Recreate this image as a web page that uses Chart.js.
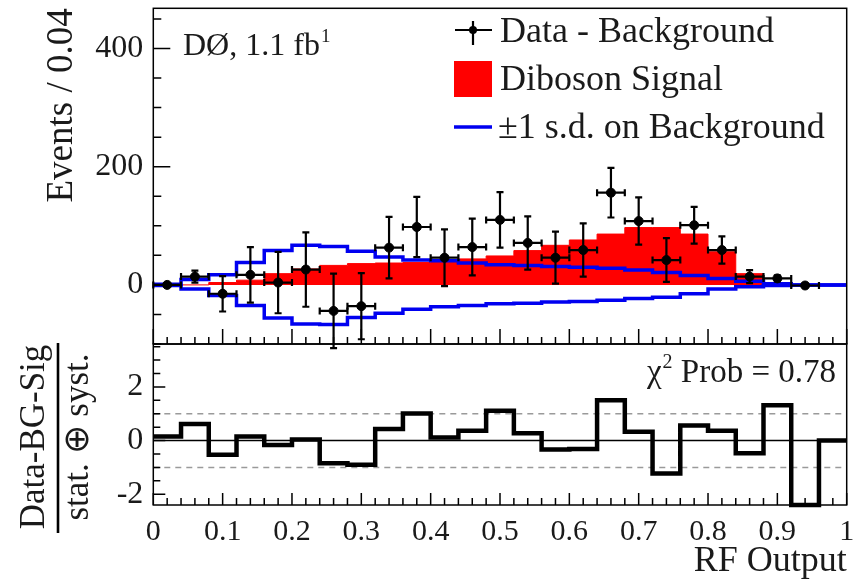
<!DOCTYPE html>
<html>
<head>
<meta charset="utf-8">
<script src="https://cdn.jsdelivr.net/npm/chart.js@4.4.1/dist/chart.umd.min.js"></script>
<style>
  body { margin: 0; background: #fff; }
  #wrap { position: relative; width: 863px; height: 579px; }
  canvas { position: absolute; left: 0; top: 0; }
</style>
</head>
<body>
<div id="wrap">
  <canvas id="topChart" width="863" height="579"></canvas>
  <canvas id="bottomChart" width="863" height="579"></canvas>
</div>
<script>
// RF output bins (width 0.04), low edges
const binLow = [0, 0.04, 0.08, 0.12, 0.16, 0.2, 0.24, 0.28, 0.32, 0.36, 0.4, 0.44, 0.48,
  0.52, 0.56, 0.6, 0.64, 0.68, 0.72, 0.76, 0.8, 0.84, 0.88, 0.92, 0.96];
const binCentres = [0.02, 0.06, 0.1, 0.14, 0.18, 0.22, 0.26, 0.3, 0.34, 0.38, 0.42, 0.46,
  0.5, 0.54, 0.58, 0.62, 0.66, 0.7, 0.74, 0.78, 0.82, 0.86, 0.9, 0.94];

// upper panel
const dataMinusBkg = [0, 14, -15, 17, 4, 26, -44, -36, 63, 98, 46, 64, 110, 71, 46, 59, 156, 108, 42, 101, 59, 14, 11, -1];
const dataErr = [2, 10, 30, 47, 52, 63, 63, 56, 52, 51, 48, 48, 47, 45, 44, 45, 42, 40, 37, 31, 23, 11, 5, 3];
const signal = [0, 0, 4, 8, 19, 27, 33, 36, 37, 38, 41, 44, 49, 58, 67, 76, 86, 97, 97, 86, 56, 19, 3, 0, 0];
const bkgUp = [1, 9, 17, 38, 58, 67, 65, 57, 47, 42, 41, 37, 34, 33, 31, 30, 28, 25, 21, 16, 11, 6, 2, 0, 0];
const bkgDown = [-1, -7, -18, -35, -56, -66, -67, -55, -48, -41, -37, -35, -32, -31, -29, -28, -26, -23, -21, -15, -7, -3, -1, 0, 0];

// lower panel: (Data-BG-Sig) / (stat. (+) syst.)
const pull = [0.15, 0.62, -0.53, 0.15, -0.16, 0.04, -0.84, -0.9, 0.43, 1.01, 0.12, 0.37, 1.11, 0.27,
  -0.33, -0.31, 1.5, 0.33, -1.23, 0.56, 0.37, -0.47, 1.32, -2.4, 0];
const pullBand = [1, -1];

// tick labels
const xTicks = [0, 0.1, 0.2, 0.3, 0.4, 0.5, 0.6, 0.7, 0.8, 0.9, 1];
const yTicksTop = [0, 200, 400];
const yTicksBottom = [-2, 0, 2];

const legendLabels = ['Data - Background', 'Diboson Signal', '\u00b11 s.d. on Background'];

const SERIF = '"Liberation Serif", "Times New Roman", serif';
const INK = '#1a1a1a';
const BLUE = '#0000f0';

// histogram as stepped line through the low edges, closed at x = 1
const stepPoints = vals => binLow.map((x, i) => ({ x, y: vals[i] })).concat([{ x: 1, y: vals[vals.length - 1] }]);

// ROOT style frame with ticks pointing inwards
function rootFrame(o) {
  return {
    id: 'rootFrame',
    afterDraw(chart) {
      const { ctx, chartArea: a, scales: { x, y } } = chart;
      ctx.save();
      ctx.strokeStyle = '#000';
      ctx.lineWidth = 1.5;
      ctx.strokeRect(a.left, a.top, a.right - a.left, a.bottom - a.top);
      ctx.beginPath();
      for (let k = 0; k <= 50; k++) {
        const px = x.getPixelForValue(k * 0.02);
        ctx.moveTo(px, a.bottom);
        ctx.lineTo(px, a.bottom - (k % 5 === 0 ? o.xMajor : o.xMinor));
      }
      for (let k = 0; ; k++) {
        const v = o.yFirst + k * o.yStep;
        if (v > y.max) break;
        const py = y.getPixelForValue(v);
        const r = v / o.yMajorStep;
        const major = Math.abs(r - Math.round(r)) < 1e-6;
        ctx.moveTo(a.left, py);
        ctx.lineTo(a.left + (major ? o.yMajor : o.yMinor), py);
      }
      ctx.stroke();
      ctx.restore();
    }
  };
}

const errorBars = {
  id: 'errorBars',
  afterDatasetsDraw(chart) {
    const { ctx, scales: { x, y } } = chart;
    ctx.save();
    ctx.strokeStyle = '#000';
    ctx.lineWidth = 2.2;
    binCentres.forEach((c, i) => {
      const px = x.getPixelForValue(c);
      const py = y.getPixelForValue(dataMinusBkg[i]);
      const x0 = x.getPixelForValue(c - 0.02);
      const x1 = x.getPixelForValue(c + 0.02);
      const y0 = y.getPixelForValue(dataMinusBkg[i] - dataErr[i]);
      const y1 = y.getPixelForValue(dataMinusBkg[i] + dataErr[i]);
      ctx.beginPath();
      ctx.moveTo(x0, py); ctx.lineTo(x1, py);
      ctx.moveTo(px, y0); ctx.lineTo(px, y1);
      ctx.moveTo(x0, py - 3.5); ctx.lineTo(x0, py + 3.5);
      ctx.moveTo(x1, py - 3.5); ctx.lineTo(x1, py + 3.5);
      ctx.moveTo(px - 3.5, y0); ctx.lineTo(px + 3.5, y0);
      ctx.moveTo(px - 3.5, y1); ctx.lineTo(px + 3.5, y1);
      ctx.stroke();
    });
    ctx.restore();
  }
};

const topText = {
  id: 'topText',
  afterDraw(chart) {
    const ctx = chart.ctx;
    ctx.save();
    ctx.fillStyle = INK;
    ctx.textBaseline = 'alphabetic';
    ctx.font = '32px ' + SERIF;
    ctx.fillText('D\u00d8, 1.1 fb', 183, 55);
    const w = ctx.measureText('D\u00d8, 1.1 fb').width;
    ctx.font = '19px ' + SERIF;
    ctx.fillText('1', 183 + w + 1, 42);

    // legend
    ctx.font = '36px ' + SERIF;
    ctx.fillText(legendLabels[0], 500, 42);
    ctx.fillText(legendLabels[1], 500, 90);
    ctx.fillText(legendLabels[2], 498, 138);

    ctx.strokeStyle = '#000';
    ctx.lineWidth = 2.2;
    ctx.beginPath();
    ctx.moveTo(455, 30); ctx.lineTo(492, 30);
    ctx.moveTo(473, 21); ctx.lineTo(473, 45);
    ctx.stroke();
    ctx.fillStyle = '#000';
    ctx.beginPath();
    ctx.arc(473, 30, 4, 0, Math.PI * 2);
    ctx.fill();

    ctx.fillStyle = '#ff0000';
    ctx.fillRect(454, 61, 38, 36);

    ctx.strokeStyle = BLUE;
    ctx.lineWidth = 3.5;
    ctx.beginPath();
    ctx.moveTo(454, 127); ctx.lineTo(492, 127);
    ctx.stroke();
    ctx.restore();
  }
};

const bottomText = {
  id: 'bottomText',
  afterDraw(chart) {
    const ctx = chart.ctx;
    ctx.save();
    ctx.fillStyle = INK;
    // y title as a fraction
    ctx.font = '35px ' + SERIF;
    ctx.textAlign = 'center';
    ctx.textBaseline = 'alphabetic';
    ctx.save();
    ctx.translate(44, 437);
    ctx.rotate(-Math.PI / 2);
    ctx.fillText('Data-BG-Sig', 0, 0);
    ctx.restore();
    ctx.save();
    ctx.translate(88, 437);
    ctx.rotate(-Math.PI / 2);
    ctx.fillText('stat. \u2295 syst.', 0, 0);
    ctx.restore();
    ctx.strokeStyle = '#000';
    ctx.lineWidth = 2.6;
    ctx.beginPath();
    ctx.moveTo(58, 343); ctx.lineTo(58, 533);
    ctx.stroke();

    // chi2 probability
    ctx.textAlign = 'left';
    ctx.font = '33px ' + SERIF;
    const wChi = ctx.measureText('\u03c7').width;
    const wRest = ctx.measureText(' Prob = 0.78').width;
    ctx.font = '20px ' + SERIF;
    const w2 = ctx.measureText('2').width;
    const x0 = 835 - wChi - w2 - wRest;
    ctx.font = '33px ' + SERIF;
    ctx.fillText('\u03c7', x0, 382);
    ctx.fillText(' Prob = 0.78', x0 + wChi + w2 + 1, 382);
    ctx.font = '20px ' + SERIF;
    ctx.fillText('2', x0 + wChi + 1, 368);
    ctx.restore();
  }
};

const fixTicks = vals => scale => { scale.ticks = vals.map(v => ({ value: v })); };

new Chart(document.getElementById('topChart'), {
  type: 'scatter',
  data: {
    datasets: [
      {
        label: legendLabels[0],
        data: binCentres.map((c, i) => ({ x: c, y: dataMinusBkg[i] })),
        backgroundColor: '#000',
        borderColor: '#000',
        pointRadius: 4.5,
        order: 0,
      },
      {
        type: 'line',
        label: '+1 s.d.',
        data: stepPoints(bkgUp),
        stepped: true,
        borderColor: BLUE,
        borderWidth: 3.5,
        pointRadius: 0,
        fill: false,
        order: 1,
      },
      {
        type: 'line',
        label: '-1 s.d.',
        data: stepPoints(bkgDown),
        stepped: true,
        borderColor: BLUE,
        borderWidth: 3.5,
        pointRadius: 0,
        fill: false,
        order: 1,
      },
      {
        type: 'line',
        label: legendLabels[1],
        data: stepPoints(signal),
        stepped: true,
        borderColor: '#ff0000',
        borderWidth: 1,
        backgroundColor: '#ff0000',
        fill: 'origin',
        pointRadius: 0,
        order: 2,
      },
    ],
  },
  options: {
    responsive: false,
    animation: false,
    events: [],
    devicePixelRatio: 1,
    layout: { padding: { left: 0, right: 16.3, top: 8.3, bottom: 235 } },
    plugins: { legend: { display: false }, tooltip: { enabled: false } },
    scales: {
      x: { type: 'linear', min: 0, max: 1, display: false },
      y: {
        min: -100,
        max: 468,
        afterBuildTicks: fixTicks(yTicksTop),
        afterFit(scale) { scale.width = 153.3; scale.paddingTop = 0; scale.paddingBottom = 0; },
        grid: { display: false },
        border: { display: false },
        ticks: { color: INK, padding: 2, font: { family: SERIF, size: 32 }, callback: v => String(v) },
        title: {
          display: true,
          text: 'Events / 0.04',
          align: 'end',
          color: INK,
          font: { family: SERIF, size: 37, lineHeight: 1.2 },
          padding: { top: 40, bottom: 0 },
        },
      },
    },
  },
  plugins: [errorBars, topText, rootFrame({ xMajor: 15, xMinor: 7, yFirst: -100, yStep: 50, yMajorStep: 200, yMajor: 17, yMinor: 8 })],
});

new Chart(document.getElementById('bottomChart'), {
  type: 'scatter',
  data: {
    datasets: [
      {
        label: 'pull',
        data: stepPoints(pull),
        showLine: true,
        stepped: true,
        borderColor: '#000',
        borderWidth: 4.5,
        pointRadius: 0,
        clip: 6,
        order: 0,
      },
      {
        label: 'zero',
        data: [{ x: 0, y: 0 }, { x: 1, y: 0 }],
        showLine: true,
        borderColor: '#000',
        borderWidth: 1.5,
        pointRadius: 0,
        order: 1,
      },
      ...pullBand.map(b => ({
        label: 'band ' + b,
        data: [{ x: 0, y: b }, { x: 1, y: b }],
        showLine: true,
        borderColor: '#9a9a9a',
        borderWidth: 1.5,
        borderDash: [6, 5],
        pointRadius: 0,
        order: 2,
      })),
    ],
  },
  options: {
    responsive: false,
    animation: false,
    events: [],
    devicePixelRatio: 1,
    layout: { padding: { left: 0, right: 16.3, top: 344, bottom: 0 } },
    plugins: { legend: { display: false }, tooltip: { enabled: false } },
    scales: {
      x: {
        type: 'linear',
        min: 0,
        max: 1,
        afterBuildTicks: fixTicks(xTicks),
        afterFit(scale) { scale.height = 74; scale.paddingLeft = 0; scale.paddingRight = 0; },
        grid: { display: false },
        border: { display: false },
        ticks: { color: INK, padding: 1, autoSkip: false, maxRotation: 0, font: { family: SERIF, size: 30 }, callback: v => String(v) },
        title: {
          display: true,
          text: 'RF Output',
          align: 'end',
          color: INK,
          font: { family: SERIF, size: 36, lineHeight: 0.9 },
          padding: { top: 0, bottom: 1 },
        },
      },
      y: {
        min: -2.4,
        max: 3.6,
        afterBuildTicks: fixTicks(yTicksBottom),
        afterFit(scale) { scale.width = 153.3; scale.paddingTop = 0; scale.paddingBottom = 0; },
        grid: { display: false },
        border: { display: false },
        ticks: { color: INK, padding: 2, font: { family: SERIF, size: 32 }, callback: v => String(v) },
      },
    },
  },
  plugins: [bottomText, rootFrame({ xMajor: 12, xMinor: 7, yFirst: -2, yStep: 0.5, yMajorStep: 2, yMajor: 12, yMinor: 7 })],
});
</script>
</body>
</html>
